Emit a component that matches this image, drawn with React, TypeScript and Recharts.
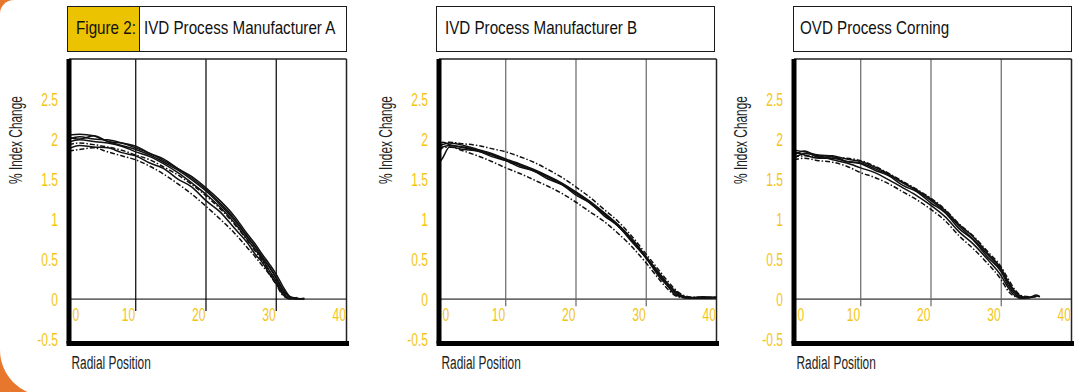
import React from "react";
import { LineChart, Line, XAxis, YAxis, ReferenceLine } from "recharts";

const X_TICKS = [0, 10, 20, 30, 40];
const Y_TICKS = [-0.5, 0, 0.5, 1, 1.5, 2, 2.5];
const GRID_X = [10, 20, 30];

// Manufacturer A
const X_A = [0.5, 2, 4, 6, 8, 10, 12, 14, 16, 18, 20, 22, 24, 26, 27, 28, 29, 30, 31, 32, 33, 34];
const A1 = [2.05, 2.06, 2.04, 1.97, 1.95, 1.91, 1.82, 1.75, 1.63, 1.53, 1.39, 1.23, 1.04, 0.8, 0.69, 0.56, 0.44, 0.31, 0.15, 0.03, 0.01, 0.0];
const A2 = [2.02, 2.0, 2.04, 1.97, 1.92, 1.87, 1.8, 1.71, 1.61, 1.49, 1.35, 1.18, 0.99, 0.76, 0.65, 0.52, 0.4, 0.26, 0.1, 0.02, 0.0, 0.01];
const A3 = [1.96, 1.99, 1.97, 1.95, 1.91, 1.84, 1.78, 1.69, 1.58, 1.45, 1.31, 1.15, 0.96, 0.73, 0.62, 0.5, 0.36, 0.22, 0.07, 0.0, 0.02, null];
const A4 = [1.88, 1.92, 1.9, 1.89, 1.83, 1.79, 1.7, 1.63, 1.5, 1.4, 1.23, 1.09, 0.89, 0.69, 0.56, 0.46, 0.32, 0.19, 0.05, 0.0, null, null];
const A5 = [1.93, 1.95, 1.93, 1.9, 1.86, 1.8, 1.74, 1.65, 1.55, 1.43, 1.29, 1.13, 0.94, 0.72, 0.6, 0.48, 0.35, 0.22, 0.08, 0.01, null, null];
const A6 = [1.85, 1.87, 1.89, 1.84, 1.79, 1.74, 1.66, 1.56, 1.44, 1.31, 1.16, 1.0, 0.83, 0.63, 0.53, 0.42, 0.31, 0.18, 0.04, 0.0, null, null];
const A7 = [2.0, 2.03, 2.0, 1.99, 1.95, 1.89, 1.82, 1.73, 1.63, 1.51, 1.37, 1.2, 1.01, 0.77, 0.66, 0.53, 0.41, 0.27, 0.12, 0.02, 0.0, 0.0];

// Manufacturer B
const X_B = [0.5, 1, 2, 4, 6, 8, 10, 12, 14, 16, 18, 20, 22, 24, 26, 28, 30, 32, 33, 34, 35, 36, 38, 40];
const B1 = [1.7, 1.76, 1.9, 1.87, 1.85, 1.78, 1.73, 1.65, 1.6, 1.5, 1.43, 1.3, 1.2, 1.04, 0.91, 0.71, 0.51, 0.26, 0.17, 0.06, 0.03, 0.01, 0.03, 0.02];
const B2 = [1.88, 1.93, 1.95, 1.92, 1.87, 1.82, 1.75, 1.69, 1.62, 1.54, 1.45, 1.34, 1.22, 1.08, 0.93, 0.75, 0.53, 0.31, 0.2, 0.11, 0.05, 0.02, 0.02, 0.02];
const B3 = [1.82, 1.9, 1.92, 1.89, 1.85, 1.8, 1.73, 1.67, 1.6, 1.52, 1.43, 1.32, 1.2, 1.06, 0.91, 0.73, 0.51, 0.28, 0.17, 0.08, 0.03, 0.02, 0.01, 0.02];
const B4 = [1.93, 1.96, 1.93, 1.9, 1.86, 1.81, 1.74, 1.68, 1.61, 1.53, 1.44, 1.33, 1.21, 1.07, 0.92, 0.74, 0.52, 0.3, 0.19, 0.1, 0.04, 0.02, 0.01, 0.02];
const B5 = [1.9, 1.94, 1.96, 1.94, 1.92, 1.88, 1.84, 1.78, 1.71, 1.62, 1.52, 1.4, 1.27, 1.12, 0.97, 0.78, 0.56, 0.34, 0.23, 0.13, 0.06, 0.03, 0.02, 0.02];
const B6 = [1.86, 1.89, 1.9, 1.85, 1.79, 1.72, 1.64, 1.57, 1.49, 1.41, 1.32, 1.21, 1.09, 0.97, 0.82, 0.65, 0.45, 0.23, 0.13, 0.05, 0.02, 0.01, 0.01, 0.02];

// Corning OVD
const X_C = [0.5, 2, 4, 6, 8, 10, 12, 14, 16, 18, 20, 22, 24, 26, 28, 30, 31, 32, 33, 34, 35, 35.5];
const C1 = [1.86, 1.84, 1.8, 1.79, 1.75, 1.72, 1.65, 1.56, 1.46, 1.36, 1.25, 1.11, 0.93, 0.78, 0.58, 0.38, 0.22, 0.09, 0.03, 0.02, 0.04, 0.03];
const C2 = [1.8, 1.85, 1.77, 1.78, 1.72, 1.69, 1.61, 1.54, 1.42, 1.34, 1.2, 1.08, 0.88, 0.74, 0.53, 0.34, 0.17, 0.06, 0.01, 0.02, 0.04, null];
const C3 = [1.76, 1.82, 1.79, 1.74, 1.7, 1.64, 1.58, 1.49, 1.39, 1.29, 1.17, 1.03, 0.84, 0.69, 0.5, 0.29, 0.14, 0.04, 0.01, 0.02, 0.03, null];
const C4 = [1.84, 1.8, 1.76, 1.76, 1.72, 1.7, 1.63, 1.55, 1.45, 1.35, 1.23, 1.09, 0.91, 0.75, 0.56, 0.36, 0.2, 0.08, 0.02, 0.02, 0.05, 0.03];
const C5 = [1.78, 1.79, 1.78, 1.77, 1.76, 1.73, 1.66, 1.57, 1.47, 1.37, 1.26, 1.12, 0.94, 0.79, 0.6, 0.4, 0.25, 0.11, 0.04, 0.03, null, null];
const C6 = [1.74, 1.76, 1.73, 1.71, 1.66, 1.58, 1.52, 1.44, 1.34, 1.24, 1.12, 0.98, 0.79, 0.63, 0.45, 0.24, 0.1, 0.03, 0.01, null, null, null];

// no narrow face installed, so regular Liberation Sans squeezed horizontally
const FONT = "'Liberation Sans', Arial, sans-serif";
const YELLOW = "#F3C516";
const GOLD = "#EBC300";
const ORANGE = "#E8772E";
const INK = "#111";

const AXIS_W = 69;
const PLOT_W = 277.5;

type Series = { values: (number | null)[]; dashed?: boolean };

function buildRows(xs: number[], series: Series[]) {
  return xs.map((x, i) => {
    const row: Record<string, number | null> = { x };
    series.forEach((s, k) => {
      row["s" + k] = s.values[i];
    });
    return row;
  });
}

const XTick = (props: any) => {
  const { x, y, payload } = props;
  const isZero = payload.value === 0;
  const tx = isZero ? x + 7 : x - 0.5;
  return (
    <text
      transform={`translate(${tx},${y - 22.5}) scale(0.67,1)`}
      textAnchor={isZero ? "start" : "end"}
      fill={YELLOW}
      fontFamily={FONT}
      fontSize={18}
    >
      {payload.value}
    </text>
  );
};

const YTick = (props: any) => {
  const { x, y, payload } = props;
  return (
    <text
      transform={`translate(${x},${y + 6.5}) scale(0.67,1)`}
      textAnchor="end"
      fill={YELLOW}
      fontFamily={FONT}
      fontSize={18}
    >
      {payload.value}
    </text>
  );
};

const yTitle = (props: any) => {
  const vb = props.viewBox;
  return (
    <text
      transform={`translate(${vb.x + vb.width - 47},${vb.y + 81}) rotate(-90) scale(0.66,1)`}
      textAnchor="middle"
      fill="#222"
      fontFamily={FONT}
      fontSize={18}
    >
      % Index Change
    </text>
  );
};

const xTitle = (props: any) => {
  const vb = props.viewBox;
  return (
    <text
      transform={`translate(${vb.x + 2.5},${vb.y + 25}) scale(0.66,1)`}
      textAnchor="start"
      fill="#222"
      fontFamily={FONT}
      fontSize={18}
    >
      Radial Position
    </text>
  );
};

const squeeze: React.CSSProperties = {
  display: "inline-block",
  transform: "scaleX(0.82)",
  transformOrigin: "left center",
  whiteSpace: "nowrap",
};

type PanelProps = {
  plotLeft: number;
  titleLeft: number;
  titleWidth: number;
  textPad: number;
  title: string;
  figure?: string;
  gridColor: string;
  gridBottom: number;
  xs: number[];
  series: Series[];
};

function Panel({ plotLeft, titleLeft, titleWidth, textPad, title, figure, gridColor, gridBottom, xs, series }: PanelProps) {
  const rows = buildRows(xs, series);
  return (
    <>
      <div
        style={{
          position: "absolute",
          left: titleLeft,
          top: 6,
          width: titleWidth,
          height: 46,
          border: "1.5px solid #1b1b1b",
          boxSizing: "border-box",
          display: "flex",
          alignItems: "stretch",
          fontFamily: FONT,
          fontSize: 18.5,
          color: INK,
          background: "#fff",
          overflow: "hidden",
        }}
      >
        {figure && (
          <div
            style={{
              background: GOLD,
              width: 71.5,
              flex: "none",
              borderRight: "1.5px solid #1b1b1b",
              boxSizing: "border-box",
              display: "flex",
              alignItems: "center",
              paddingLeft: 7.5,
              paddingBottom: 2,
            }}
          >
            <span style={squeeze}>{figure}</span>
          </div>
        )}
        <div
          style={{
            display: "flex",
            alignItems: "center",
            paddingLeft: figure ? 4 : textPad,
            paddingBottom: 2,
          }}
        >
          <span style={squeeze}>{title}</span>
        </div>
      </div>
      <div style={{ position: "absolute", left: plotLeft - AXIS_W, top: 0 }}>
        <LineChart
          width={AXIS_W + PLOT_W + 10}
          height={392}
          data={rows}
          margin={{ top: 59, right: 10, bottom: 18.5, left: 0 }}
        >
          <XAxis
            type="number"
            dataKey="x"
            domain={[0.5, 40]}
            allowDataOverflow
            ticks={X_TICKS}
            interval={0}
            height={30}
            tickLine={false}
            tickSize={0}
            tickMargin={0}
            axisLine={{ stroke: "#000", strokeWidth: 5, strokeLinecap: "square" }}
            tick={XTick}
            label={xTitle}
          />
          <YAxis
            type="number"
            domain={[-0.555, 3]}
            allowDataOverflow
            ticks={Y_TICKS}
            interval={0}
            width={AXIS_W}
            tickLine={false}
            tickSize={0}
            tickMargin={11}
            axisLine={{ stroke: "#000", strokeWidth: 5 }}
            tick={YTick}
            label={yTitle}
          />
          <ReferenceLine y={0} stroke="#000" strokeWidth={1} />
          {GRID_X.map((g) => (
            <ReferenceLine
              key={g}
              segment={[
                { x: g, y: 3 },
                { x: g, y: gridBottom },
              ]}
              stroke={gridColor}
              strokeWidth={1.2}
            />
          ))}
          <ReferenceLine y={3} stroke="#222" strokeWidth={1.5} />
          <ReferenceLine x={40} stroke="#222" strokeWidth={1.5} />
          {series.map((s, k) => (
            <Line
              key={k}
              dataKey={"s" + k}
              type="monotone"
              dot={false}
              stroke={INK}
              strokeWidth={1.5}
              strokeDasharray={s.dashed ? "5 2 1.5 2" : undefined}
              isAnimationActive={false}
              connectNulls={false}
            />
          ))}
        </LineChart>
      </div>
    </>
  );
}

export default function App() {
  return (
    <div
      style={{
        position: "absolute",
        left: 0,
        top: 0,
        width: 1077,
        height: 392,
        background: ORANGE,
        overflow: "hidden",
      }}
    >
      <div
        style={{
          position: "absolute",
          left: 0,
          top: 0,
          width: 1077,
          height: 396,
          background: "#fff",
          borderRadius: "14px 0 0 46px",
        }}
      />
      <Panel
        plotLeft={69.3}
        titleLeft={67}
        titleWidth={280}
        textPad={7.5}
        figure="Figure 2:"
        title="IVD Process Manufacturer A"
        gridColor="#000"
        gridBottom={-0.15}
        xs={X_A}
        series={[
          { values: A1 },
          { values: A2 },
          { values: A3 },
          { values: A4 },
          { values: A5, dashed: true },
          { values: A6, dashed: true },
          { values: A7 },
        ]}
      />
      <Panel
        plotLeft={438.8}
        titleLeft={436}
        titleWidth={279}
        textPad={7.5}
        title="IVD Process Manufacturer B"
        gridColor="#666"
        gridBottom={-0.09}
        xs={X_B}
        series={[
          { values: B1 },
          { values: B2 },
          { values: B3 },
          { values: B4 },
          { values: B5, dashed: true },
          { values: B6, dashed: true },
        ]}
      />
      <Panel
        plotLeft={793.5}
        titleLeft={793}
        titleWidth={279}
        textPad={6}
        title="OVD Process Corning"
        gridColor="#666"
        gridBottom={-0.09}
        xs={X_C}
        series={[
          { values: C1 },
          { values: C2 },
          { values: C3 },
          { values: C4 },
          { values: C5, dashed: true },
          { values: C6, dashed: true },
        ]}
      />
    </div>
  );
}
